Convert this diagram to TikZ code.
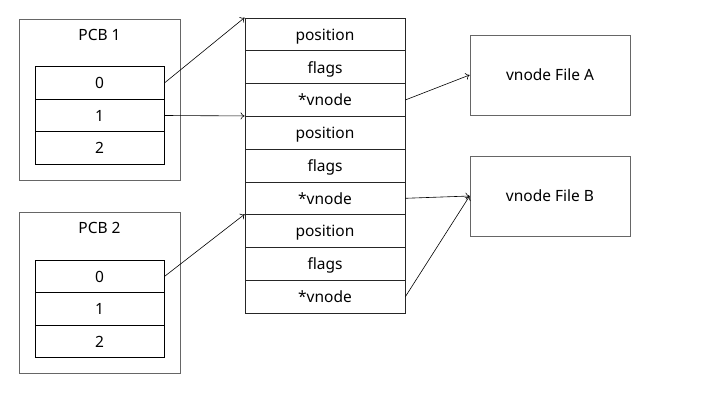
\documentclass[tikz,border=0pt]{standalone}
\usepackage{fontspec}
\setmainfont{Noto Sans}
\usetikzlibrary{arrows.meta,positioning}

\begin{document}
\begin{tikzpicture}[x=1pt,y=-1pt,font=\fontsize{15.5}{18}\selectfont,
  frame/.style={draw=black!60,line width=0.8pt,minimum width=161pt,inner sep=0pt},
  cell/.style={draw,line width=0.8pt,minimum width=129pt,minimum height=32.5pt,inner sep=0pt,text depth=0pt},
  entry/.style={draw=black!85,line width=0.8pt,minimum width=160pt,minimum height=32.78pt,inner sep=0pt,text depth=0pt},
  ptr/.style={-{To[length=4pt,width=7pt]},line width=0.6pt}]
  \useasboundingbox (0,0) rectangle (724,402);

  % process control blocks
  \node[frame,minimum height=161pt] (pcbA) at (99.5,99.5) {};
  \node (pcbAlabel) at (99.5,35) {PCB 1};
  \node[frame,minimum height=161pt] (pcbB) at (99.5,292.5) {};
  \node (pcbBlabel) at (99.5,228) {PCB 2};
  \foreach \n in {0,1,2} {
    \node[cell] (fdA\n) at (99.5,83+\n*32.5) {\n};
    \node[cell] (fdB\n) at (99.5,276.5+\n*32.5) {\n};
  }

  % open file table
  \foreach \i/\t in {1/position,2/flags,3/*vnode,4/position,5/flags,6/*vnode,7/position,8/flags,9/*vnode}
    \node[entry] (ent\i) at (325,18+16.39+\i*32.78-32.78) {\t};

  % vnodes
  \node[frame,minimum width=160pt,minimum height=80pt] (fileA) at (550,75) {vnode File A};
  \node[frame,minimum width=160pt,minimum height=80pt] (fileB) at (550,196) {vnode File B};

  \draw[ptr] (fdA0.east) -- (ent1.north west);
  \draw[ptr] (fdA1.east) -- (ent4.north west);
  \draw[ptr] (fdB0.east) -- (ent7.north west);
  \draw[ptr] (ent3.east) -- (fileA.west);
  \draw[ptr] (ent6.east) -- (fileB.west);
  \draw[ptr] (ent9.east) -- (fileB.west);
\end{tikzpicture}
\end{document}
